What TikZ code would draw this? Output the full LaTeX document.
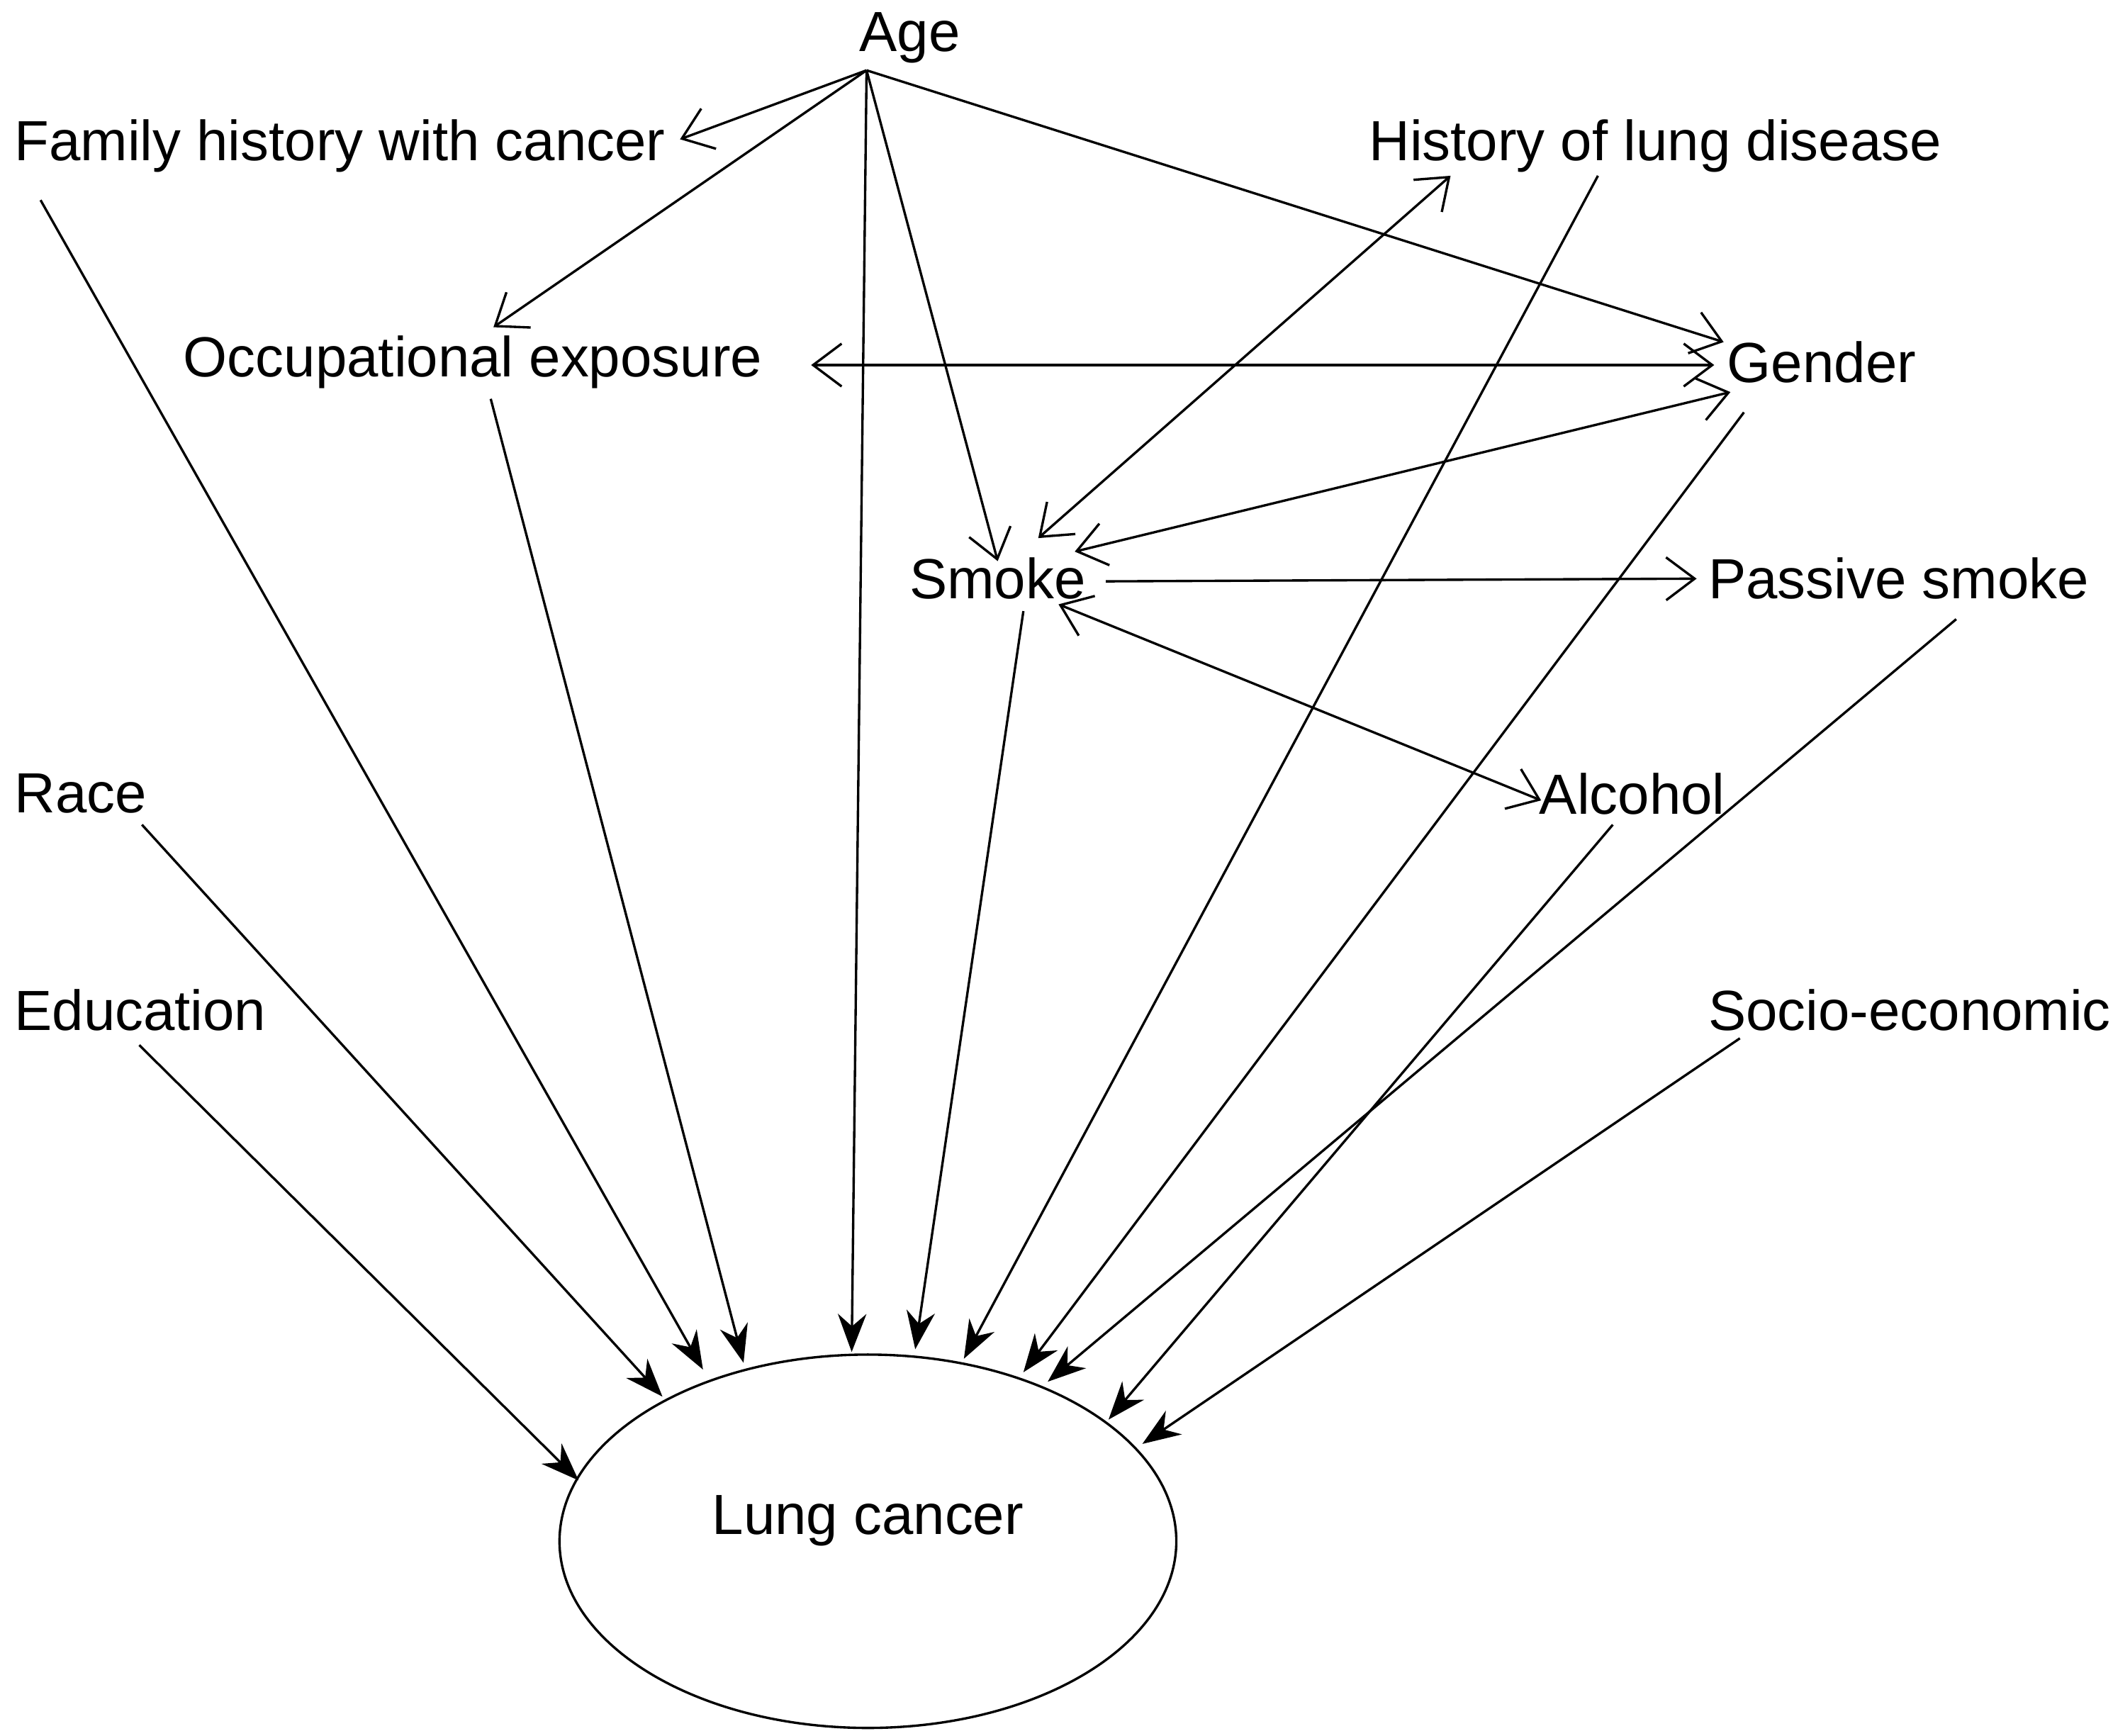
\documentclass[tikz,border=0pt]{standalone}
\usepackage{fontspec}
\setmainfont{Liberation Sans}
\usetikzlibrary{arrows.meta,shapes.geometric}
\begin{document}
\begin{tikzpicture}[x=0.01cm,y=-0.01cm,
  lbl/.style={anchor=west,inner sep=0pt,font=\fontsize{11.9}{14}\selectfont},
  open/.style={-{Straight Barb[length=6pt,width=9pt]},line width=0.5pt},
  both/.style={{Straight Barb[length=6pt,width=9pt]}-{Straight Barb[length=6pt,width=9pt]},line width=0.5pt},
  fill/.style={-{Stealth[length=8pt,width=6pt]},line width=0.5pt}]
\useasboundingbox (0,0) rectangle (1563,1284);
\node[lbl,anchor=center] (age) at (673,28) {Age};
\node[lbl] (fam) at (10,108) {Family history with cancer};
\node[lbl] (occ) at (135,268) {Occupational exposure};
\node[lbl] (hist) at (1012,108) {History of lung disease};
\node[lbl] (gen) at (1277,268) {Gender};
\node[lbl] (smk) at (672,428) {Smoke};
\node[lbl] (pas) at (1263,428) {Passive smoke};
\node[lbl] (alc) at (1138,587) {Alcohol};
\node[lbl] (race) at (10,587) {Race};
\node[lbl] (edu) at (10,747) {Education};
\node[lbl] (soc) at (1263,747) {Socio-economic};
\node[draw,ellipse,inner sep=0pt,line width=0.5pt,
      minimum width=4.56cm,minimum height=2.76cm] (lung) at (642,1140) {};
\node[lbl,anchor=center] (lungt) at (642,1125) {Lung cancer};
\coordinate (a0) at (641,52);
\draw[open] (a0) -- (503,103);
\draw[open] (a0) -- (365,242);
\draw[open] (a0) -- (738,415);
\draw[open] (a0) -- (1275,253);
\draw[fill] (a0) -- (630,1000);
\draw[both] (768,398) -- (1073,130);
\draw[both] (600,270) -- (1268,270);
\draw[both] (795,408) -- (1280,290);
\draw[open] (818,430) -- (1255,428);
\draw[both] (783,447) -- (1140,592);
\draw[fill] (30,148) -- (520,1013);
\draw[fill] (363,295) -- (550,1008);
\draw[fill] (757,452) -- (677,998);
\draw[fill] (1182,130) -- (713,1005);
\draw[fill] (1290,305) -- (757,1015);
\draw[fill] (1447,458) -- (775,1022);
\draw[fill] (1193,610) -- (820,1050);
\draw[fill] (1287,768) -- (845,1068);
\draw[fill] (105,610) -- (490,1033);
\draw[fill] (103,773) -- (428,1095);
\end{tikzpicture}
\end{document}
